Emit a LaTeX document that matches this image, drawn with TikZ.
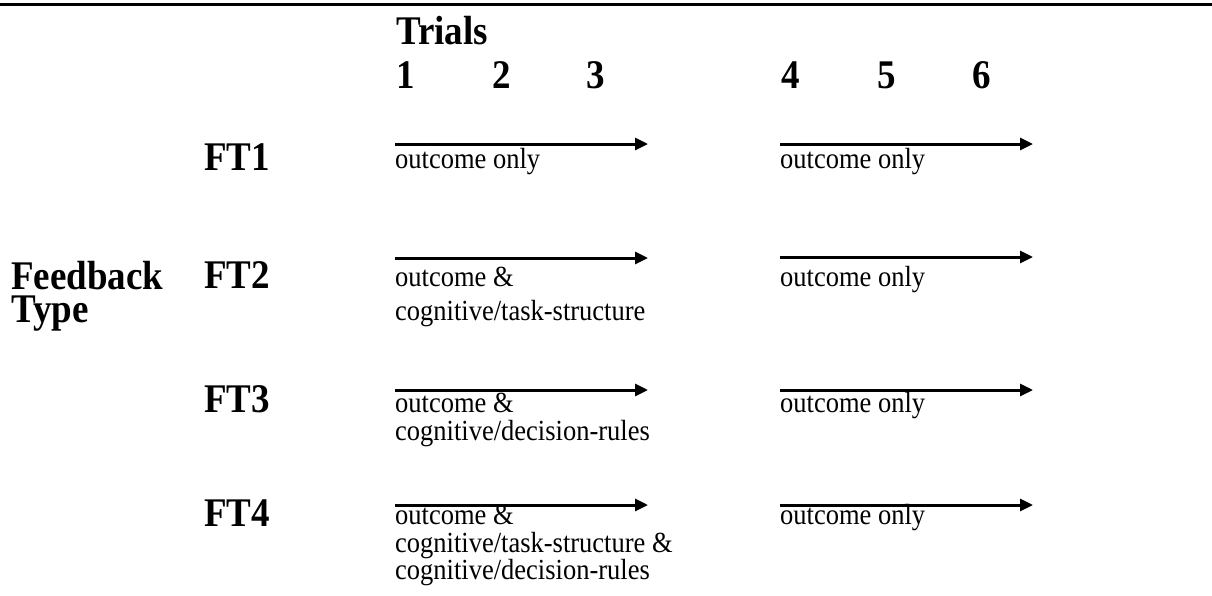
\documentclass[tikz,border=0pt]{standalone}
\usepackage{graphicx}
\usepackage{fontspec}
\setmainfont{Liberation Serif}
\usetikzlibrary{arrows.meta}
\newcommand\vstretch[1]{\scalebox{1}[1.1]{#1}}
\begin{document}
\begin{tikzpicture}[x=1pt,y=-1pt,
  lbl/.style={anchor=base west,inner sep=0pt,font=\fontsize{37}{40}\selectfont\bfseries},
  txt/.style={anchor=base west,inner sep=0pt,font=\fontsize{26.5}{28}\selectfont},
  trialarrow/.style={line width=3pt,-{Triangle[length=13pt,width=12pt]}}]
\useasboundingbox (0,0) rectangle (1212,595);
\coordinate (rl) at (0,4);
\coordinate (rr) at (1212,4);
\draw[line width=3pt] (rl) -- (rr);
% header
\node[lbl] (trials) at (396,44) {\vstretch{Trials}};
\node[lbl] (d1) at (396,88) {\vstretch{1}};
\node[lbl] (d2) at (492,88) {\vstretch{2}};
\node[lbl] (d3) at (586,88) {\vstretch{3}};
\node[lbl] (d4) at (781,88) {\vstretch{4}};
\node[lbl] (d5) at (877,88) {\vstretch{5}};
\node[lbl] (d6) at (972,88) {\vstretch{6}};
% left labels
\node[lbl] (fb) at (11,289) {\vstretch{Feedback}};
\node[lbl] (ty) at (11,322) {\vstretch{Type}};
\node[lbl] (ft1) at (204,170) {\vstretch{FT1}};
\node[lbl] (ft2) at (204,288) {\vstretch{FT2}};
\node[lbl] (ft3) at (204,412) {\vstretch{FT3}};
\node[lbl] (ft4) at (204,526) {\vstretch{FT4}};
% arrow endpoints
\coordinate (a1s) at (395,144); \coordinate (a1e) at (648,144);
\coordinate (b1s) at (780,144); \coordinate (b1e) at (1033,144);
\coordinate (a2s) at (395,258); \coordinate (a2e) at (648,258);
\coordinate (b2s) at (780,257); \coordinate (b2e) at (1033,257);
\coordinate (a3s) at (395,390); \coordinate (a3e) at (648,390);
\coordinate (b3s) at (780,390); \coordinate (b3e) at (1033,390);
\coordinate (a4s) at (395,505); \coordinate (a4e) at (648,505);
\coordinate (b4s) at (780,505); \coordinate (b4e) at (1033,505);
\foreach \r in {1,2,3,4}{
  \draw[trialarrow] (a\r s) -- (a\r e);
  \draw[trialarrow] (b\r s) -- (b\r e);
}
% FT1 texts
\node[txt] (t1a) at (395,168) {\vstretch{outcome only}};
\node[txt] (t1b) at (780,168) {\vstretch{outcome only}};
% FT2
\node[txt] (t2a) at (395,286) {\vstretch{outcome \&}};
\node[txt] (t2b) at (395,320) {\vstretch{cognitive/task-structure}};
\node[txt] (t2c) at (780,286) {\vstretch{outcome only}};
% FT3
\node[txt] (t3a) at (395,412) {\vstretch{outcome \&}};
\node[txt] (t3b) at (395,440) {\vstretch{cognitive/decision-rules}};
\node[txt] (t3c) at (780,412) {\vstretch{outcome only}};
% FT4
\node[txt] (t4a) at (395,524) {\vstretch{outcome \&}};
\node[txt] (t4b) at (395,552) {\vstretch{cognitive/task-structure \&}};
\node[txt] (t4c) at (395,579) {\vstretch{cognitive/decision-rules}};
\node[txt] (t4d) at (780,524) {\vstretch{outcome only}};
\end{tikzpicture}
\end{document}
